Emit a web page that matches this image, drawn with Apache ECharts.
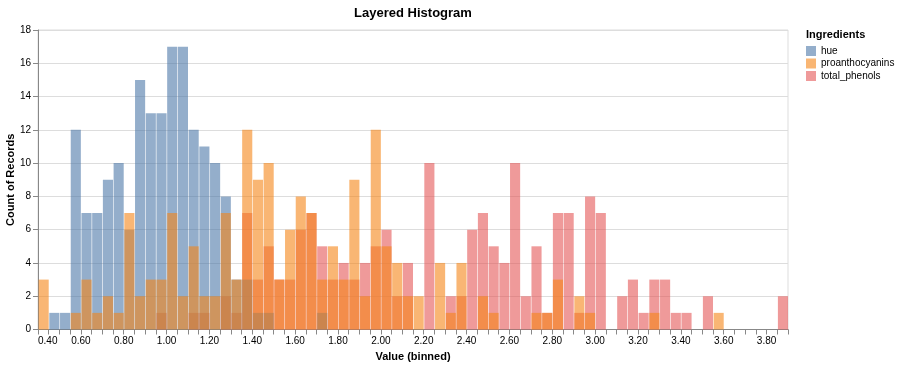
<!DOCTYPE html>
<html>
<head>
<meta charset="utf-8">
<script src="https://cdn.jsdelivr.net/npm/echarts@6/dist/echarts.min.js"></script>
<style>html,body{margin:0;padding:0;background:#fff}#c{width:910px;height:371px}</style>
</head>
<body>
<div id="c"></div>
<script>
// Histogram bins: first bin start and bin width (value units)
const binStart = 0.40;
const binWidth = 0.05;
const xMin = 0.40, xMax = 3.90;
const yTicks = [0, 2, 4, 6, 8, 10, 12, 14, 16, 18];
const seriesNames = ['hue', 'proanthocyanins', 'total_phenols'];

// counts per bin (bin k = [0.40+0.05k, 0.45+0.05k))
const hue = [0,1,1,12,7,7,9,10,6,15, 13,13,17,17,12,11,10,8,3,3, 1,1,0,0,0,0,1,0,0,0,
  0,0,0,0,0,0,0,0,0,0, 0,0,0,0,0,0,0,0,0,0, 0,0,0,0,0,0,0,0,0,0, 0,0,0,0,0,0,0,0,0,0];
const proanthocyanins = [3,0,0,1,3,1,2,1,7,2, 3,3,7,2,5,2,2,7,3,12, 9,10,3,6,8,7,3,5,3,9,
  2,12,5,4,2,2,0,4,1,4, 0,2,1,0,0,0,1,1,3,0, 2,1,0,0,0,0,0,1,0,0, 0,0,0,1,0,0,0,0,0,0];
const total_phenols = [0,0,0,0,0,0,0,0,0,0, 0,1,0,0,1,1,0,2,1,7, 3,5,3,3,6,7,5,3,4,3,
  4,5,6,2,4,0,10,0,2,2, 6,7,5,4,10,2,5,1,7,7, 1,8,7,0,2,3,1,3,3,1, 1,0,2,0,0,0,0,0,0,2];

const colors = {
  hue: 'rgba(76,120,168,0.6)',
  proanthocyanins: 'rgba(245,133,24,0.6)',
  total_phenols: 'rgba(228,87,86,0.6)'
};
const FONT = 'Liberation Sans, Arial, Helvetica, sans-serif';

function toData(counts) {
  const out = [];
  counts.forEach((c, k) => { if (c > 0) out.push([+(binStart + k * binWidth).toFixed(2), c]); });
  return out;
}

function renderItem(params, api) {
  const x0 = api.value(0), y = api.value(1);
  const p0 = api.coord([x0, y]);
  const p1 = api.coord([x0 + binWidth, 0]);
  const gap = 0.6;
  return {
    type: 'rect',
    shape: { x: p0[0] + gap, y: p0[1], width: p1[0] - p0[0] - gap, height: p1[1] - p0[1] },
    style: { fill: api.visual('color') }
  };
}

function mk(name, counts) {
  return {
    name: name, type: 'custom', renderItem: renderItem,
    itemStyle: { color: colors[name] },
    encode: { x: 0, y: 1 },
    data: toData(counts)
  };
}

const chart = echarts.init(document.getElementById('c'), null, { renderer: 'canvas' });
chart.setOption({
  animation: false,
  textStyle: { fontFamily: FONT },
  title: [
    { text: 'Layered Histogram', left: 413, top: 7, textAlign: 'center', padding: 0,
      textStyle: { fontSize: 13, fontWeight: 'bold', color: '#000', fontFamily: FONT } },
    { text: 'Ingredients', left: 806, top: 29, padding: 0,
      textStyle: { fontSize: 11, fontWeight: 'bold', color: '#000', fontFamily: FONT } }
  ],
  legend: {
    orient: 'vertical', left: 806, top: 46, padding: 0,
    itemWidth: 10, itemHeight: 10, itemGap: 2.5, icon: 'rect',
    data: seriesNames,
    textStyle: { fontSize: 10, color: '#000', fontFamily: FONT, lineHeight: 10 },
    selectedMode: false
  },
  grid: { left: 38, right: 122, top: 30, bottom: 41.5, show: true, borderColor: '#ddd', borderWidth: 1,
    backgroundColor: 'transparent', containLabel: false, outerBoundsMode: 'none' },
  xAxis: {
    type: 'value', min: xMin, max: xMax, interval: binWidth,
    name: 'Value (binned)', nameLocation: 'middle', nameGap: 22, nameMoveOverlap: false,
    nameTextStyle: { fontSize: 11, fontWeight: 'bold', color: '#000', fontFamily: FONT },
    axisLine: { show: true, lineStyle: { color: '#888' } },
    axisTick: { show: true, length: 5, lineStyle: { color: '#888' } },
    splitLine: { show: false },
    axisLabel: {
      fontSize: 10, color: '#000', margin: 7, fontFamily: FONT,
      alignMinLabel: 'left',
      formatter: function (v) { return Math.round(v * 100) % 20 === 0 ? v.toFixed(2) : ''; }
    }
  },
  yAxis: {
    type: 'value', min: yTicks[0], max: yTicks[yTicks.length - 1], interval: 2,
    name: 'Count of Records', nameLocation: 'middle', nameGap: 22, nameMoveOverlap: false,
    nameTextStyle: { fontSize: 11, fontWeight: 'bold', color: '#000', fontFamily: FONT },
    axisLine: { show: true, lineStyle: { color: '#888' } },
    axisTick: { show: true, length: 5, lineStyle: { color: '#888' } },
    splitLine: { show: true, lineStyle: { color: '#ddd' } },
    axisLabel: { fontSize: 10, color: '#000', margin: 7, fontFamily: FONT }
  },
  series: [
    mk('total_phenols', total_phenols),
    mk('hue', hue),
    mk('proanthocyanins', proanthocyanins)
  ]
});
</script>
</body>
</html>
